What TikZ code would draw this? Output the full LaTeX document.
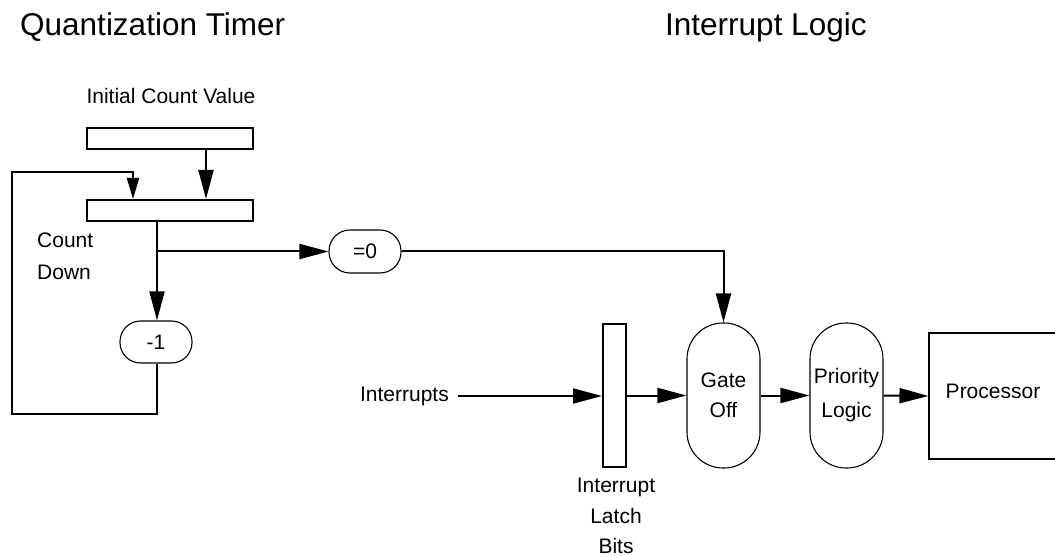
\documentclass[tikz,border=0pt]{standalone}
\usepackage{fontspec}
\setmainfont{Liberation Sans}
\usetikzlibrary{arrows.meta}
\begin{document}
\begin{tikzpicture}[x=1pt,y=-1pt,
  arr/.style={line width=2pt,-{Triangle[length=29pt,width=15pt]}},
  sarr/.style={line width=2pt,-{Triangle[length=21pt,width=12pt]}},
  ln/.style={line width=2pt},
  small/.style={font=\fontsize{21}{31}\selectfont},
  big/.style={font=\fontsize{31.5}{38}\selectfont},
  regbox/.style={draw,line width=2pt,minimum width=166pt,minimum height=21pt,inner sep=0pt},
  pill/.style={draw,line width=1.1pt,inner sep=0pt,small,align=center},
  txt/.style={inner sep=0pt,small}
]
\useasboundingbox (0,0) rectangle (1055,556);

% titles
\node[big,inner sep=0pt,anchor=base west] (t1) at (20,36) {Quantization Timer};
\node[big,inner sep=0pt,anchor=base west] (t2) at (665,36) {Interrupt Logic};

% quantization timer
\node[txt,anchor=base] (icvl) at (171,104) {Initial Count Value};
\node[regbox] (init) at (170,138.5) {};
\node[regbox] (count) at (170,210.5) {};
\node[txt,align=left,anchor=north west,font=\fontsize{21}{32}\selectfont] (cd) at (37,233) {Count\\Down};
\node[pill,minimum width=72pt,minimum height=42pt,rounded corners=20.5pt] (m1) at (156,342) {-1};
\node[pill,minimum width=72pt,minimum height=43pt,rounded corners=21pt] (eq0) at (365,251.5) {=0};

\coordinate (br) at (157,251.5);
\coordinate (lp1) at (12,414);
\coordinate (lp2) at (133,172);
\coordinate (ca) at (206,0);

\draw[arr] (init.south -| ca) -- (count.north -| ca);
\draw[ln] (count.south -| br) -- (br);
\draw[arr] (br) -- (br |- m1.north);
\draw[arr] (br) -- (eq0.west);
\draw[sarr] (m1.south -| br) |- (lp1) |- (lp2) -- (count.north -| lp2);

% interrupt logic
\node[draw,line width=2pt,minimum width=23pt,minimum height=143pt,inner sep=0pt] (latch) at (614.5,395.5) {};
\node[txt,align=center,anchor=north,font=\fontsize{21}{30.5}\selectfont] (latchl) at (616,478) {Interrupt\\Latch\\Bits};
\node[txt,anchor=east] (intr) at (449,396) {Interrupts};
\node[pill,minimum width=73pt,minimum height=145pt,rounded corners=36pt,font=\fontsize{21}{30}\selectfont] (gate) at (723.5,395.5) {Gate\\Off};
\node[pill,minimum width=73pt,minimum height=145pt,rounded corners=36pt,font=\fontsize{21}{34}\selectfont] (prio) at (846.5,395.5) {Priority\\Logic};
\node[draw,line width=1.1pt,minimum width=128pt,minimum height=126pt,inner sep=0pt,small,text height=15pt,text depth=10pt] (proc) at (993,396) {Processor};

\draw[arr] ([xshift=9pt]intr.east) -- (intr.east -| latch.west);
\draw[arr] (latch.east) -- (gate.west);
\draw[arr] (gate.east) -- (prio.west);
\draw[arr] (prio.east) -- (proc.west);
\draw[arr] (eq0.east) -| (gate.north);
\end{tikzpicture}
\end{document}
